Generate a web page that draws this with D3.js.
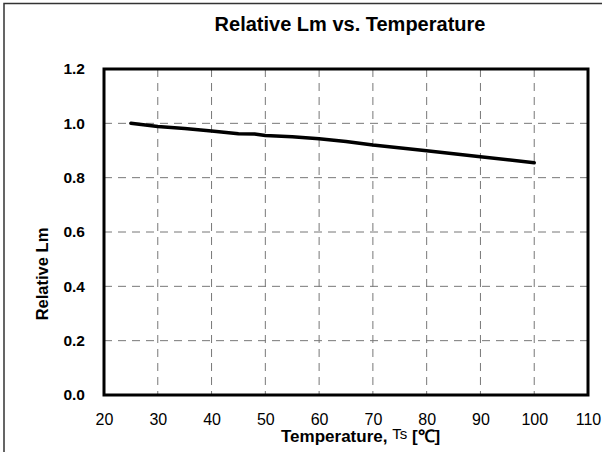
<!DOCTYPE html>
<html>
<head>
<meta charset="utf-8">
<script src="https://cdn.jsdelivr.net/npm/d3@7"></script>
<style>
  body { margin: 0; background: #fff; }
  text { font-family: "Liberation Sans", Arial, sans-serif; }
</style>
</head>
<body>
<script>
// values
var temps = [25, 30, 35, 40, 45, 48, 50, 55, 60, 65, 70, 80, 90, 100];
var relLm = [1.000, 0.988, 0.981, 0.972, 0.962, 0.961, 0.955, 0.951, 0.943, 0.933, 0.920, 0.899, 0.877, 0.855];
var xTicks = [20, 30, 40, 50, 60, 70, 80, 90, 100, 110];
var yTicks = [0.0, 0.2, 0.4, 0.6, 0.8, 1.0, 1.2];

var width = 602, height = 452;
var plot = {left: 104, right: 588, top: 69, bottom: 395};

var svg = d3.select("body").append("svg")
  .attr("width", width)
  .attr("height", height);

// outer chart frame (runs off the right / bottom edge in the reference)
svg.append("rect")
  .attr("x", 4).attr("y", 3.5)
  .attr("width", 640).attr("height", 500)
  .attr("fill", "none")
  .attr("stroke", "#333")
  .attr("stroke-width", 1.5);

var x = d3.scaleLinear().domain([20, 110]).range([plot.left, plot.right]);
var y = d3.scaleLinear().domain([0, 1.2]).range([plot.bottom, plot.top]);

// dashed grid
svg.append("g")
  .selectAll("line")
  .data(xTicks.slice(1, -1))
  .join("line")
  .attr("x1", d => x(d)).attr("x2", d => x(d))
  .attr("y1", plot.top).attr("y2", plot.bottom)
  .attr("stroke", "#777")
  .attr("stroke-width", 1)
  .attr("stroke-dasharray", "8,6");

svg.append("g")
  .selectAll("line")
  .data(yTicks.slice(1, -1))
  .join("line")
  .attr("x1", plot.left).attr("x2", plot.right)
  .attr("y1", d => y(d)).attr("y2", d => y(d))
  .attr("stroke", "#777")
  .attr("stroke-width", 1)
  .attr("stroke-dasharray", "8,6");

// axes: labels only, frame drawn separately
var xAxis = svg.append("g")
  .attr("transform", "translate(0," + plot.bottom + ")")
  .call(d3.axisBottom(x).tickValues(xTicks).tickSize(0).tickPadding(19).tickFormat(d3.format("d")));
xAxis.select(".domain").remove();
xAxis.selectAll("text")
  .attr("font-size", 16)
  .attr("fill", "#000")
  .style("font-family", "'Liberation Sans', Arial, sans-serif");

var yAxis = svg.append("g")
  .attr("transform", "translate(" + plot.left + ",0)")
  .call(d3.axisLeft(y).tickValues(yTicks).tickSize(0).tickPadding(19).tickFormat(d3.format(".1f")));
yAxis.select(".domain").remove();
yAxis.selectAll("text")
  .attr("font-size", 15.5)
  .attr("font-weight", "bold")
  .attr("fill", "#000")
  .style("font-family", "'Liberation Sans', Arial, sans-serif");

// data line
var line = d3.line()
  .x((d, i) => x(temps[i]))
  .y(d => y(d));

svg.append("path")
  .datum(relLm)
  .attr("d", line)
  .attr("fill", "none")
  .attr("stroke", "#000")
  .attr("stroke-width", 3.5)
  .attr("stroke-linejoin", "round")
  .attr("stroke-linecap", "round");

// plot frame
svg.append("rect")
  .attr("x", plot.left).attr("y", plot.top)
  .attr("width", plot.right - plot.left)
  .attr("height", plot.bottom - plot.top)
  .attr("fill", "none")
  .attr("stroke", "#000")
  .attr("stroke-width", 3);

// titles
svg.append("text")
  .attr("x", 350).attr("y", 31)
  .attr("text-anchor", "middle")
  .attr("font-size", 20)
  .attr("font-weight", "bold")
  .text("Relative Lm vs. Temperature");

svg.append("text")
  .attr("transform", "translate(48,274) rotate(-90)")
  .attr("text-anchor", "middle")
  .attr("font-size", 16.5)
  .attr("font-weight", "bold")
  .text("Relative Lm");

var xTitle = svg.append("text")
  .attr("x", 281).attr("y", 442)
  .attr("font-size", 17)
  .attr("font-weight", "bold");
xTitle.append("tspan").text("Temperature, ");
xTitle.append("tspan")
  .attr("font-weight", "normal")
  .attr("font-size", 15)
  .attr("dy", -3)
  .text("Ts");
xTitle.append("tspan")
  .attr("dy", 3)
  .text(" [℃]");
</script>
</body>
</html>
